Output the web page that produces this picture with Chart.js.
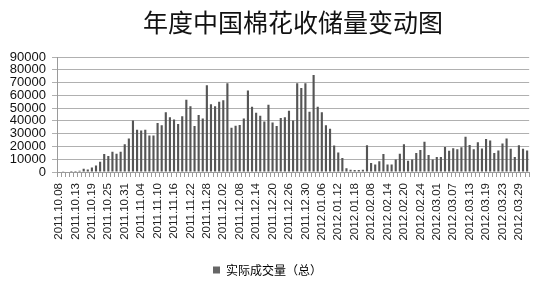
<!DOCTYPE html>
<html><head><meta charset="utf-8">
<script src="https://cdn.jsdelivr.net/npm/chart.js@4/dist/chart.umd.min.js"></script>
<style>html,body{margin:0;padding:0;background:#fff}#wrap{width:547px;height:287px;position:relative}</style>
</head><body><div id="wrap"><canvas id="c"></canvas></div>
<script>
const chartTitle = '年度中国棉花收储量变动图';
const seriesName = '实际成交量（总）';
const tickLabels = ['2011.10.08','2011.10.13','2011.10.19','2011.10.25','2011.10.31','2011.11.04','2011.11.10','2011.11.16','2011.11.22','2011.11.28','2011.12.02','2011.12.08','2011.12.14','2011.12.20','2011.12.26','2011.12.30','2012.01.06','2012.01.12','2012.01.18','2012.02.08','2012.02.14','2012.02.20','2012.02.24','2012.03.01','2012.03.07','2012.03.13','2012.03.19','2012.03.23','2012.03.29'];
const labelEvery = 4;
const volumes = [0,200,300,800,700,900,2500,2000,3500,5000,
8000,14000,12500,15800,14300,15800,21700,26300,40300,33000,
32400,33000,28500,28500,38300,36500,46700,42800,41000,37500,
43600,56600,51500,36000,44600,41800,67800,53000,51500,55000,
56100,69400,34700,36200,36700,41800,63800,51000,46400,44100,
39500,52600,38800,36000,42300,42800,48000,40300,69400,65800,
69400,47200,76000,51000,46700,36500,33900,20700,15300,11000,
3000,1800,1500,1500,1800,21000,7100,5900,8400,14000,
5900,5900,9700,14300,21700,8900,9700,14800,17300,23700,
13300,9700,11700,11700,19600,16600,18600,17900,19400,27600,
21200,17900,23200,18400,25800,24700,14800,16800,22400,26300,
18100,11700,20900,18100,16800];
const yMin = 0, yMax = 90000, yStep = 10000;

const categories = volumes.map((v,i)=> (i % labelEvery === 0 ? (tickLabels[i/labelEvery] || '') : ''));

new Chart(document.getElementById('c'), {
  type: 'bar',
  data: { labels: categories, datasets: [{ label: seriesName, data: volumes, backgroundColor: '#555555', borderWidth: 0, barPercentage: 0.52, categoryPercentage: 1 }] },
  options: {
    responsive: true, maintainAspectRatio: false, animation: false,
    layout: { padding: { left: 0, right: 12, top: 0, bottom: 1 } },
    plugins: {
      tooltip: { enabled: false },
      title: { display: true, text: chartTitle, fullSize: false, color: '#111',
        font: { family: '"Noto Sans CJK SC"', size: 25, weight: 'normal', lineHeight: 1.2 },
        padding: { top: 7, bottom: 20 } },
      legend: { position: 'bottom',
        labels: { color: '#333', font: { family: '"Noto Sans CJK SC"', size: 12 }, boxWidth: 7, boxHeight: 7, padding: 6,
          generateLabels: (ch) => [{ text: seriesName, fillStyle: '#666', strokeStyle: '#666', lineWidth: 0, datasetIndex: 0 }] } }
    },
    scales: {
      x: {
        grid: { display: true, drawOnChartArea: false, drawTicks: true, tickLength: 5, color: '#9a9a9a' },
        border: { color: '#9a9a9a' },
        ticks: { autoSkip: false, minRotation: 90, maxRotation: 90, padding: 6, color: '#222',
          font: { family: '"Liberation Sans"', size: 11.5 } },
        afterFit: (s) => { s.height = 86; }
      },
      y: {
        min: yMin, max: yMax,
        grid: { color: '#b0b0b0', tickLength: 5 },
        border: { color: '#9a9a9a' },
        ticks: { stepSize: yStep, autoSkip: false, padding: 6, color: '#111', font: { family: '"Liberation Sans"', size: 13 },
          callback: (v) => String(v) },
        afterFit: (s) => { s.width = 57; }
      }
    }
  }
});
</script></body></html>
